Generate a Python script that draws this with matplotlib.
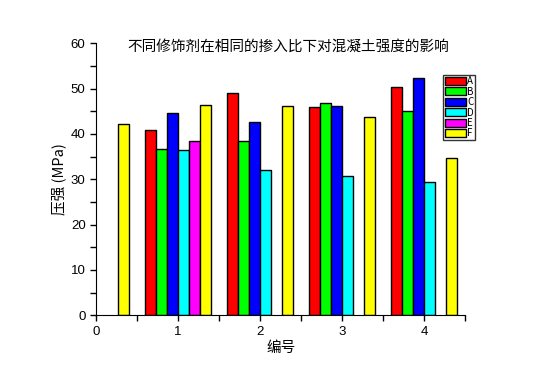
#!/usr/bin/env python3
import numpy as np
import matplotlib

matplotlib.use("Agg")
import matplotlib.pyplot as plt

plt.rcParams["font.family"] = ["Noto Sans CJK SC", "DejaVu Sans"]

# data
groups = [0, 1, 2, 3, 4]
series = ["A", "B", "C", "D", "E", "F"]
colors = ["#ff0000", "#00ff00", "#0000ff", "#00ffff", "#ff00ff", "#ffff00"]
A = [np.nan, 40.9, 49.0, 45.9, 50.3]
B = [np.nan, 36.6, 38.4, 46.8, 45.0]
C = [np.nan, 44.6, 42.6, 46.1, 52.3]
D = [np.nan, 36.4, 32.0, 30.7, 29.3]
E = [np.nan, 38.4, np.nan, np.nan, np.nan]
F = [42.1, 46.5, 46.1, 43.7, 34.6]
values = [A, B, C, D, E, F]

title = "不同修饰剂在相同的掺入比下对混凝土强度的影响"
xlabel = "编号"
ylabel = "压强 (MPa)"


def main():
    fig = plt.figure(figsize=(5.44, 3.82), dpi=100)
    ax = fig.add_axes([0.1765, 0.1746, 0.6788, 0.712])

    w = 0.135
    x = np.array(groups, dtype=float)
    for i, (name, col, vals) in enumerate(zip(series, colors, values)):
        ax.bar(x + (i - 2.5) * w, vals, width=w, color=col,
               edgecolor="black", linewidth=1.0, label=name)

    ax.set_xlim(0, 4.5)
    ax.set_ylim(0, 60)
    ax.set_xticks([0, 1, 2, 3, 4])
    ax.set_xticks([0.5, 1.5, 2.5, 3.5, 4.5], minor=True)
    ax.set_yticks(range(0, 61, 10))
    ax.set_yticks(range(5, 60, 10), minor=True)
    ax.spines["top"].set_visible(False)
    ax.spines["right"].set_visible(False)
    ax.tick_params(which="both", direction="out", length=4, width=1,
                   labelsize=9.5)
    for lbl in ax.get_xticklabels() + ax.get_yticklabels():
        lbl.set_family(["Liberation Sans Narrow", "Liberation Sans", "DejaVu Sans"])

    # title sits inside the top of the plot area, like the Origin original
    ax.text(0.52, 0.986, title, transform=ax.transAxes, fontsize=10.5,
            ha="center", va="center")
    ax.set_xlabel(xlabel, fontsize=10.5, labelpad=2)
    ax.set_ylabel(ylabel, fontsize=10.5, labelpad=3)

    leg = ax.legend(loc="upper left", bbox_to_anchor=(0.94, 0.885),
                    fontsize=7, frameon=True, fancybox=False,
                    borderpad=0.15, labelspacing=0.05, handlelength=2.2,
                    handleheight=0.9, handletextpad=0.1, borderaxespad=0)
    leg.get_frame().set_edgecolor("black")
    leg.get_frame().set_linewidth(1)

    fig.savefig("out.png", dpi=100)


if __name__ == "__main__":
    main()
